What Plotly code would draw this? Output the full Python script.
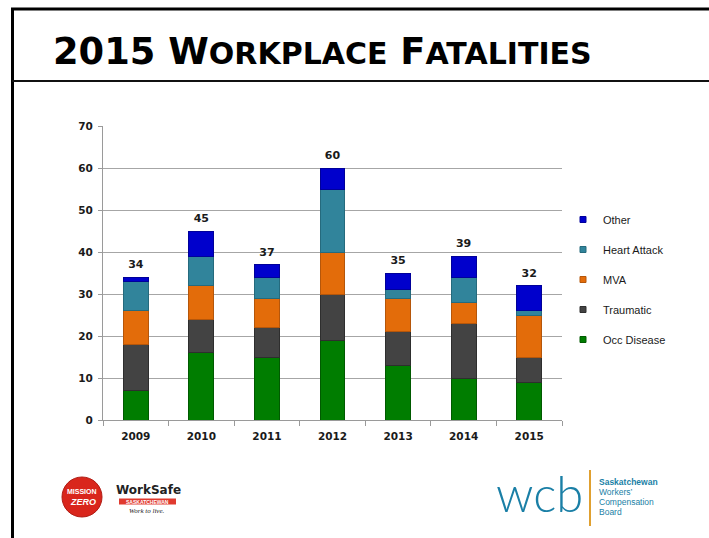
import plotly.graph_objects as go

years = ["2009", "2010", "2011", "2012", "2013", "2014", "2015"]
occ_disease = [7, 16, 15, 19, 13, 10, 9]
traumatic = [11, 8, 7, 11, 8, 13, 6]
mva = [8, 8, 7, 10, 8, 5, 10]
heart_attack = [7, 7, 5, 15, 2, 6, 1]
other = [1, 6, 3, 5, 4, 5, 6]
totals = [34, 45, 37, 60, 35, 39, 32]

series_names = ["Occ Disease", "Traumatic", "MVA", "Heart Attack", "Other"]
series_values = [occ_disease, traumatic, mva, heart_attack, other]
series_colors = ["#007d00", "#434343", "#e36c0a", "#31849b", "#0000cc"]
series_edges = ["#005a00", "#2e2e2e", "#b5560a", "#256a7d", "#00009a"]

W, H = 709, 538
L, R, T, B = 103, 562, 126, 420


def px(x):
    return (x - L) / (R - L)


def py(y):
    return (B - y) / (B - T)


fig = go.Figure()
for name, vals, col, edge in zip(series_names, series_values, series_colors, series_edges):
    fig.add_trace(go.Bar(
        x=years, y=vals, name=name, showlegend=False,
        marker=dict(color=col, line=dict(color=edge, width=1)),
        hoverinfo="x+y+name",
    ))

# totals above the stacks (invisible marker pushes the label up)
fig.add_trace(go.Scatter(
    x=years, y=totals, mode="markers+text", text=[str(t) for t in totals],
    textposition="top center", showlegend=False, hoverinfo="skip",
    marker=dict(size=8, opacity=0),
    textfont=dict(family="DejaVu Sans", size=11, color="#1a1a1a", weight="bold"),
))

# legend entries (small square markers), top to bottom
for name, col, edge in reversed(list(zip(series_names, series_colors, series_edges))):
    fig.add_trace(go.Scatter(
        x=[years[0]], y=[None], mode="markers", name=name, legendgroup=name,
        marker=dict(symbol="square", size=6, color=col, line=dict(color=edge, width=1)),
    ))


def pann(x, y, text, font, xanchor="center"):
    return dict(x=px(x), y=py(y), xref="paper", yref="paper", xanchor=xanchor,
                yanchor="middle", showarrow=False, text=text, font=font)


annotations = []
# Title
annotations.append(pann(
    51, 52,
    ("<b>2015 W<span style='font-size:30px'>ORKPLACE</span> "
     "F<span style='font-size:30px'>ATALITIES</span></b>"),
    dict(family="DejaVu Sans", size=36.8, color="#000000"), xanchor="left"))

# WorkSafe / Mission Zero logo
annotations += [
    pann(82, 491, "<b>MISSION</b>",
         dict(family="Liberation Sans Narrow, Liberation Sans", size=7, color="white")),
    pann(83, 502, "<i><b>ZERO</b></i>", dict(family="Liberation Sans", size=9, color="white")),
    pann(148, 490, "<b>WorkSafe</b>", dict(family="DejaVu Sans", size=12, color="#222222")),
    pann(147, 501.5, "<b>SASKATCHEWAN</b>", dict(family="Liberation Sans", size=5, color="white")),
    pann(147, 511, "<i>Work to live.</i>", dict(family="Liberation Serif", size=7, color="#222222")),
]

# WCB logo
wcb_col = "#1a7fa6"
annotations += [
    pann(539, 493, "wcb", dict(family="Lato", size=49, color=wcb_col, weight=300)),
    pann(597, 482, "<b>Saskatchewan</b>", dict(family="Liberation Sans", size=8.5, color=wcb_col), "left"),
    pann(597, 492, "Workers\u2019", dict(family="Liberation Sans", size=8.5, color=wcb_col), "left"),
    pann(597, 502, "Compensation", dict(family="Liberation Sans", size=8.5, color=wcb_col), "left"),
    pann(597, 512, "Board", dict(family="Liberation Sans", size=8.5, color=wcb_col), "left"),
]

shapes = [
    # frame
    dict(type="line", xref="paper", yref="paper", x0=px(11), x1=px(709), y0=py(9), y1=py(9),
         line=dict(color="black", width=3)),
    dict(type="line", xref="paper", yref="paper", x0=px(12.5), x1=px(12.5), y0=py(8), y1=py(538),
         line=dict(color="black", width=3)),
    dict(type="line", xref="paper", yref="paper", x0=px(12), x1=px(709), y0=py(81), y1=py(81),
         line=dict(color="#111111", width=2)),
    # mission zero circle
    dict(type="circle", xref="paper", yref="paper", x0=px(62), x1=px(102), y0=py(477), y1=py(517),
         fillcolor="#d9261c", line=dict(color="#b01c14", width=1)),
    # worksafe red bar
    dict(type="rect", xref="paper", yref="paper", x0=px(119), x1=px(176), y0=py(498.5), y1=py(504.5),
         fillcolor="#e03a2f", line=dict(width=0)),
    # wcb orange divider
    dict(type="line", xref="paper", yref="paper", x0=px(590), x1=px(590), y0=py(470), y1=py(526),
         line=dict(color="#e0a030", width=2)),
]

fig.update_layout(
    width=W, height=H,
    margin=dict(l=L, r=W - R, t=T, b=H - B),
    paper_bgcolor="white", plot_bgcolor="white",
    barmode="stack", bargap=0.62,
    showlegend=True,
    legend=dict(x=px(563), y=py(205), xanchor="left", yanchor="top",
                traceorder="grouped", tracegroupgap=11,
                font=dict(family="Liberation Sans", size=11, color="#1a1a1a"),
                itemwidth=30, bgcolor="rgba(0,0,0,0)"),
    annotations=annotations,
    shapes=shapes,
    xaxis=dict(
        type="category", categoryorder="array", categoryarray=years,
        range=[-0.5, len(years) - 0.5], autorange=False,
        showline=True, linecolor="#9a9a9a", linewidth=1,
        ticks="outside", ticklen=5, tickcolor="#9a9a9a", tickson="boundaries",
        ticklabelstandoff=6,
        tickfont=dict(family="DejaVu Sans", size=10.5, color="#1a1a1a", weight="bold"),
        showgrid=False, fixedrange=True,
    ),
    yaxis=dict(
        range=[0, 70], autorange=False, dtick=10, showline=True, linecolor="#9a9a9a", linewidth=1,
        ticks="outside", ticklen=4, tickcolor="#9a9a9a", ticklabelstandoff=3,
        gridcolor="#a6a6a6", gridwidth=1, zeroline=False,
        tickfont=dict(family="DejaVu Sans", size=10.5, color="#1a1a1a", weight="bold"),
        fixedrange=True,
    ),
)

fig.write_html("out.html", config={"displayModeBar": False},
               post_script="document.body.style.margin='0';")
